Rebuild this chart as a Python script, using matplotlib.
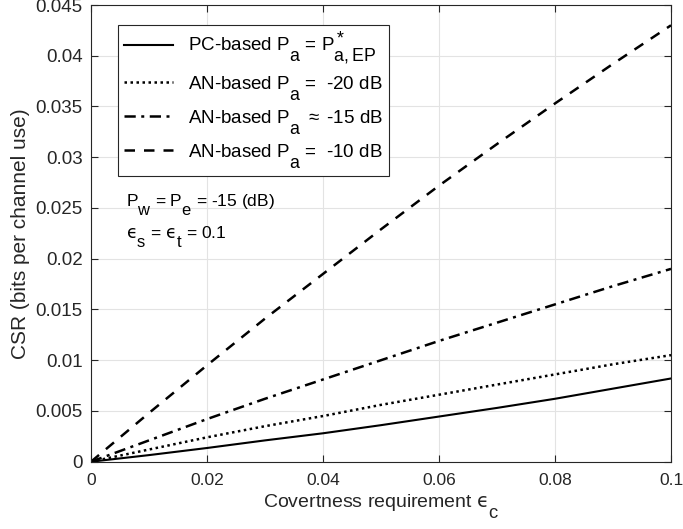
import matplotlib
matplotlib.use("Agg")
import matplotlib.pyplot as plt
import matplotlib._mathtext as _mt

# Near full-size, well-lowered subscripts in the TeX-like labels
_mt.SHRINK_FACTOR = 0.95
_mt.FontConstantsBase.sub1 = 1.1
_mt.FontConstantsBase.sub2 = 1.1
_mt.FontConstantsBase.sup1 = 0.55

# Covertness requirement (x) and CSR curves for each scheme
eps_c = [0, 0.01, 0.02, 0.03, 0.04, 0.05, 0.06, 0.07, 0.08, 0.09, 0.1]
csr_pc_ep = [0, 0.00065, 0.00135, 0.0021, 0.0028, 0.0036, 0.00445, 0.0053, 0.0062, 0.0072, 0.0082]
csr_an_m20 = [0, 0.0012, 0.0024, 0.0035, 0.0045, 0.0056, 0.0066, 0.0076, 0.0086, 0.0096, 0.0105]
csr_an_m15 = [0, 0.0021, 0.0042, 0.0062, 0.0081, 0.0100, 0.0119, 0.0137, 0.0155, 0.0173, 0.0190]
csr_an_m10 = [0, 0.0048, 0.0095, 0.0141, 0.0185, 0.0229, 0.0272, 0.0313, 0.0353, 0.0392, 0.0430]

labels = [
    r"PC-based $\mathregular{P_a}$ = $\mathregular{P^*_{a,EP}}$",
    r"AN-based $\mathregular{P_a}$ =  -20 dB",
    r"AN-based $\mathregular{P_a}$ $\approx$ -15 dB",
    r"AN-based $\mathregular{P_a}$ =  -10 dB",
]
x_ticks = [0, 0.02, 0.04, 0.06, 0.08, 0.1]
x_ticklabels = ["0", "0.02", "0.04", "0.06", "0.08", "0.1"]
y_ticks = [0, 0.005, 0.01, 0.015, 0.02, 0.025, 0.03, 0.035, 0.04, 0.045]
y_ticklabels = ["0", "0.005", "0.01", "0.015", "0.02", "0.025", "0.03", "0.035", "0.04", "0.045"]

plt.rcParams["font.family"] = ["Liberation Sans", "DejaVu Sans"]
plt.rcParams["mathtext.fontset"] = "custom"
plt.rcParams["mathtext.rm"] = "Liberation Sans"
plt.rcParams["mathtext.it"] = "Liberation Sans:italic"
plt.rcParams["mathtext.sf"] = "DejaVu Sans"
plt.rcParams["mathtext.fallback"] = "stixsans"

EPS = "\\mathsf{\u03f5}"

axis_col = "#262626"
fig = plt.figure(figsize=(6.83, 5.29), dpi=100)
ax = fig.add_axes([91 / 683, 1 - 461.7 / 529, 580 / 683, 456.7 / 529])

lw = 1.5
ax.plot(eps_c, csr_pc_ep, color="k", lw=lw, linestyle="-", label=labels[0])
ax.plot(eps_c, csr_an_m20, color="k", lw=lw + 0.3, linestyle=(0, (1, 1.4)), label=labels[1])
ax.plot(eps_c, csr_an_m15, color="k", lw=lw + 0.3, linestyle=(0, (4.5, 2.2, 1.2, 2.2)), label=labels[2])
ax.plot(eps_c, csr_an_m10, color="k", lw=lw + 0.3, linestyle=(0, (4.2, 3.6)), label=labels[3])

ax.set_xlim(0, 0.1)
ax.set_ylim(0, 0.045)
ax.set_xticks(x_ticks)
ax.set_xticklabels(x_ticklabels)
ax.set_yticks(y_ticks)
ax.set_yticklabels(y_ticklabels)
ax.tick_params(direction="in", length=5, width=0.8, colors=axis_col,
               top=True, right=True, labelcolor=axis_col)
ax.tick_params(axis="x", labelsize=12.5, pad=8)
ax.tick_params(axis="y", labelsize=13.5, pad=6)
for s in ax.spines.values():
    s.set_color(axis_col)
    s.set_linewidth(0.8)
ax.grid(True, color="#e3e3e3", lw=0.8)
ax.set_axisbelow(True)

ax.set_xlabel(r"Covertness requirement $%s_{\mathregular{c}}$" % EPS, fontsize=14, color=axis_col, labelpad=3)
ax.set_ylabel("CSR (bits per channel use)", fontsize=15, color=axis_col, labelpad=4)

leg = ax.legend(loc="upper left", bbox_to_anchor=((118 - 91) / 580, (461.7 - 25) / 456.7),
                borderaxespad=0, fontsize=13.5, frameon=True, fancybox=False,
                edgecolor=axis_col, framealpha=1, handlelength=2.6, handletextpad=0.8,
                labelspacing=0.33, borderpad=0.33)
leg.get_frame().set_linewidth(0.8)

ax.text(0.06, 0.56, r"$\mathregular{P_w}$ = $\mathregular{P_e}$ = -15 (dB)", transform=ax.transAxes,
        fontsize=12.5, color="k")
ax.text(0.06, 0.49, r"$%s_{\mathregular{s}}$ = $%s_{\mathregular{t}}$ = 0.1" % (EPS, EPS),
        transform=ax.transAxes, fontsize=12.5, color="k")

fig.savefig("out.png", dpi=100)
